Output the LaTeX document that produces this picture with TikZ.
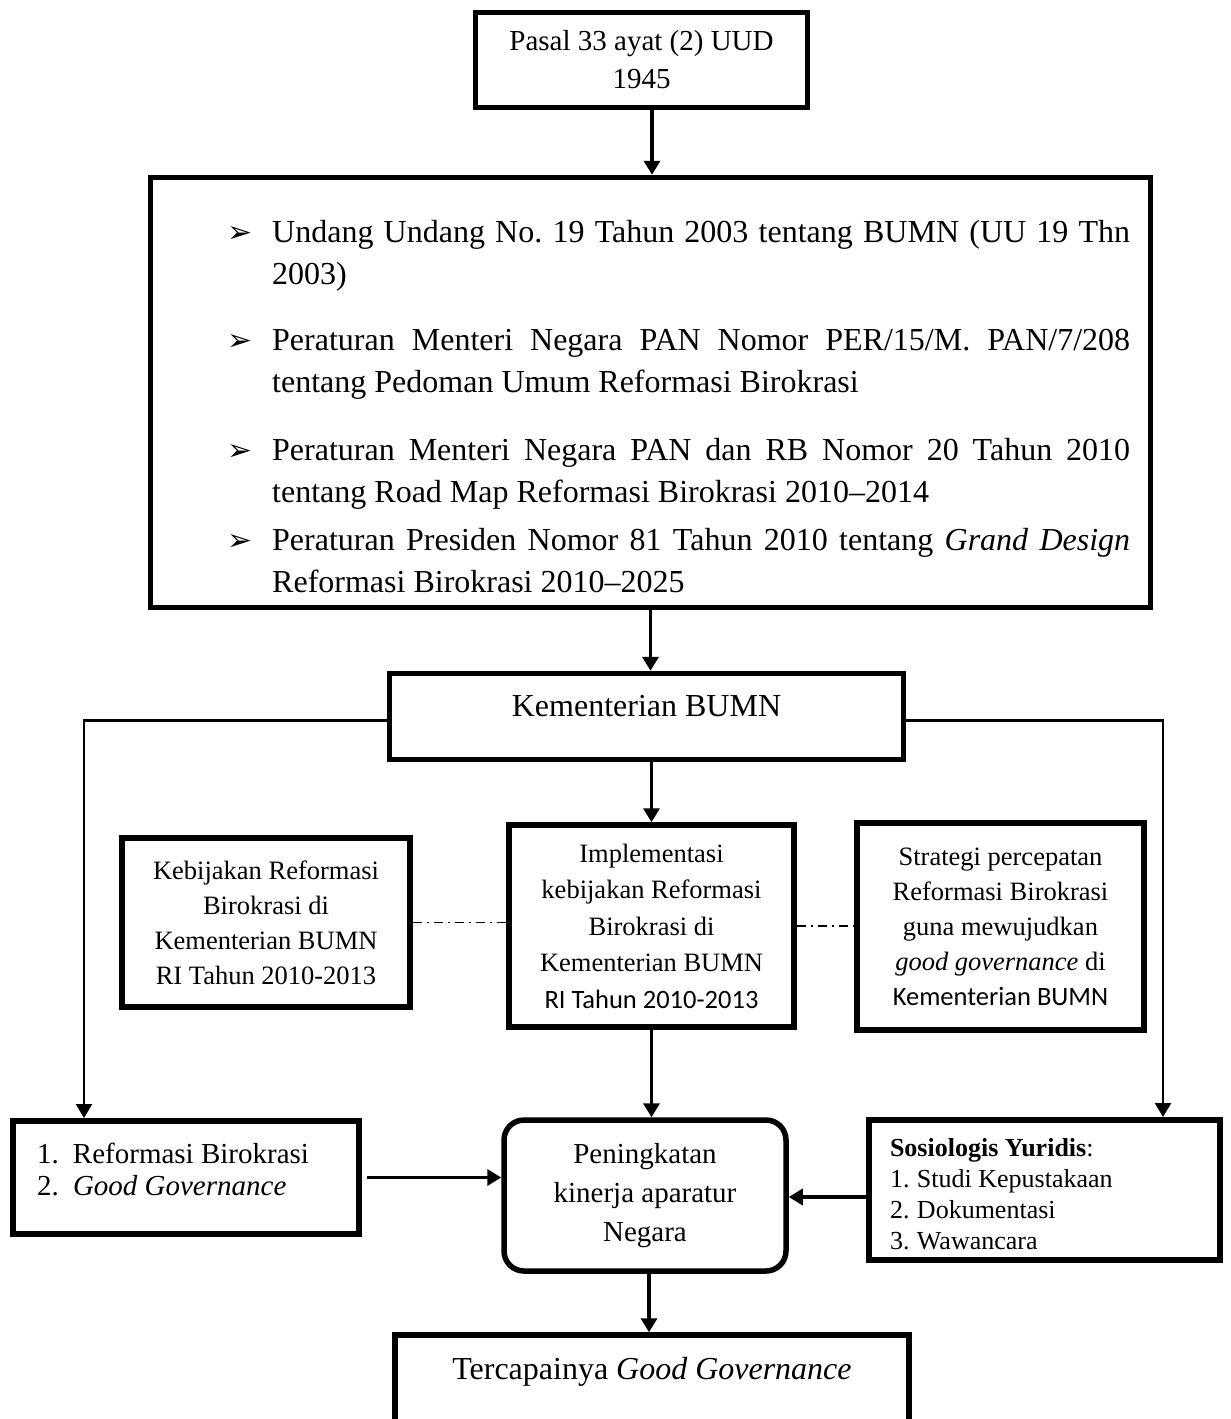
\documentclass[tikz,border=0pt]{standalone}
\usepackage{fontspec}
\setmainfont{Liberation Serif}
\newfontfamily\calibri{Carlito}
\newfontfamily\dejavu{DejaVu Sans}
\usetikzlibrary{arrows.meta}
\frenchspacing

\begin{document}
\begin{tikzpicture}[x=1pt, y=-1pt, >={Triangle[length=14pt,width=16pt]},
	box/.style={draw, line width=5.5pt, inner sep=0pt, align=flush center},
	link/.style={->, line width=3.5pt},
	thinlink/.style={->, line width=2.5pt},
	dotlink/.style={line width=1.5pt, dash pattern=on 9pt off 5pt on 2pt off 5pt},
	lawtext/.style={anchor=base west, inner sep=0pt, text width=858pt, align=justify, font=\fontsize{32}{42}\selectfont},
	bulletmark/.style={anchor=base, inner sep=0pt, font=\dejavu\fontsize{30}{30}\selectfont}]
	\useasboundingbox (0,0) rectangle (1231,1419);
	\node[box, line width=4.5pt, minimum width=332pt, minimum height=95pt, font=\fontsize{29}{38}\selectfont] (pasal) at (641.5,60) {Pasal 33 ayat (2) UUD\\1945};
	\node[box, minimum width=1000pt, minimum height=430pt] (laws) at (650.5,392.5) {};
	\node[bulletmark] (b1) at (240,242.5) {➢};
	\node[lawtext] (t1) at (272,242.5) {Undang Undang No. 19 Tahun 2003 tentang BUMN (UU 19 Thn\linebreak 2003)};
	\node[bulletmark] (b2) at (240,350.5) {➢};
	\node[lawtext] (t2) at (272,350.5) {Peraturan Menteri Negara PAN Nomor PER/15/M. PAN/7/208\linebreak tentang Pedoman Umum Reformasi Birokrasi};
	\node[bulletmark] (b3) at (240,460.5) {➢};
	\node[lawtext] (t3) at (272,460.5) {Peraturan Menteri Negara PAN dan RB Nomor 20 Tahun 2010\linebreak tentang Road Map Reformasi Birokrasi 2010--2014};
	\node[bulletmark] (b4) at (240,550.5) {➢};
	\node[lawtext] (t4) at (272,550.5) {Peraturan Presiden Nomor 81 Tahun 2010 tentang \textit{Grand Design}\linebreak Reformasi Birokrasi 2010--2025};
	\node[box, minimum width=514pt, minimum height=86pt, text height=24pt, text depth=24pt, font=\fontsize{32}{42}\selectfont] (kem) at (646.5,716.5) {Kementerian BUMN};
	\node[box, line width=6pt, minimum width=288pt, minimum height=169pt, font=\fontsize{26.5}{35}\selectfont] (keb) at (266,922.5) {Kebijakan Reformasi\\Birokrasi di\\Kementerian BUMN\\RI Tahun 2010-2013};
	\node[box, minimum width=285pt, minimum height=202pt, font=\fontsize{26.5}{36.5}\selectfont] (impl) at (651.5,926) {Implementasi\\kebijakan Reformasi\\Birokrasi di\\Kementerian BUMN\\{\calibri RI Tahun 2010-2013}};
	\node[box, line width=6pt, minimum width=287pt, minimum height=207pt, font=\fontsize{26.5}{35}\selectfont] (strat) at (1000.5,926.5) {Strategi percepatan\\Reformasi Birokrasi\\guna mewujudkan\\\textit{good governance} di\\{\calibri Kementerian BUMN}};
	\node[box, line width=6pt, minimum width=346pt, minimum height=113pt, inner xsep=24pt, text width=298pt, align=flush left, text height=20pt, text depth=49pt, font=\fontsize{29}{32}\selectfont] (ref) at (186,1177.5) {\makebox[36pt][l]{1.}Reformasi Birokrasi\\\makebox[36pt][l]{2.}\textit{Good Governance}};
	\node[box, rounded corners=20pt, minimum width=282pt, minimum height=151pt, font=\fontsize{29}{39}\selectfont] (pen) at (645,1195.5) {Peningkatan\\kinerja aparatur\\Negara};
	\node[box, line width=6pt, minimum width=351pt, minimum height=140pt, inner xsep=21pt, text width=309pt, align=flush left, text height=18pt, text depth=86pt, font=\fontsize{26}{31}\selectfont] (sos) at (1044.5,1190) {\textbf{Sosiologis Yuridis}:\\\makebox[27pt][l]{1.}Studi Kepustakaan\\\makebox[27pt][l]{2.}Dokumentasi\\\makebox[27pt][l]{3.}Wawancara};
	\node[box, minimum width=514pt, minimum height=120pt, text height=24pt, text depth=56pt, font=\fontsize{32}{42}\selectfont] (terc) at (652,1395) {Tercapainya \textit{Good Governance}};
	\draw[link] ([xshift=10.5pt]pasal.south) -- ([xshift=10.5pt]pasal.south |- laws.north);
	\draw[link] (laws.south) -- (laws.south |- kem.north);
	\draw[link] (kem.south -| impl.north) -- (impl.north);
	\draw[link] (impl.south) -- (impl.south |- pen.north);
	\draw[link] ([xshift=4pt]pen.south) -- ([xshift=4pt]pen.south |- terc.north);
	\draw[thinlink] ([yshift=-4pt]kem.west) -| ([xshift=74pt]ref.north west);
	\draw[thinlink] ([yshift=-4pt]kem.east) -| ([xshift=-60pt]sos.north east);
	\draw[link] ([xshift=5pt]ref.east) -- (ref.east -| pen.west);
	\draw[link] ([yshift=-7pt]sos.west) -- ([yshift=-7pt]sos.west -| pen.east);
	\draw[dotlink] (keb.east) -- (keb.east -| impl.west);
	\draw[dotlink] (impl.east) -- (impl.east -| strat.west);
\end{tikzpicture}
\end{document}
